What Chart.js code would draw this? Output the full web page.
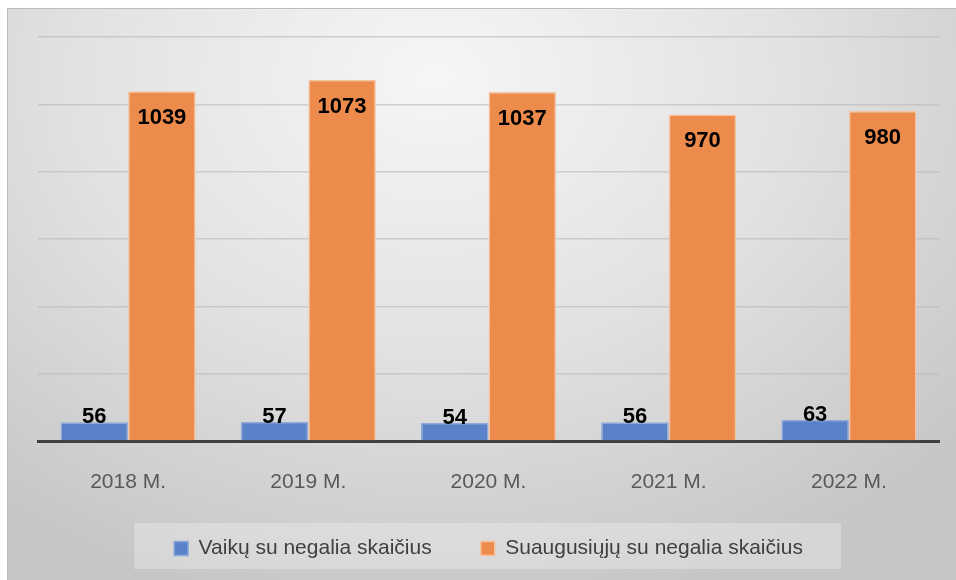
<!DOCTYPE html>
<html>
<head>
<meta charset="utf-8">
<script src="https://cdn.jsdelivr.net/npm/chart.js@4/dist/chart.umd.min.js"></script>
<style>
  html, body { margin: 0; padding: 0; background: #fff; }
  #wrap {
    position: absolute; left: 7px; top: 8px; width: 949px; height: 572px;
    box-sizing: border-box;
    border-left: 1px solid #bdbdbd; border-top: 1px solid #bdbdbd;
    background: radial-gradient(ellipse 75% 95% at 45% 12%, #f6f6f6 0%, #e2e2e2 50%, #c6c6c6 100%);
  }
  #chart { position: absolute; left: 0; top: 0; }
</style>
</head>
<body>
<div id="wrap"><canvas id="chart" width="948" height="571"></canvas></div>
<script>
const years = ["2018 M.", "2019 M.", "2020 M.", "2021 M.", "2022 M."];
const children = [56, 57, 54, 56, 63];
const adults = [1039, 1073, 1037, 970, 980];

const fontFamily = "'Liberation Sans', Arial, sans-serif";

// draws the numbers on the bars
const barLabels = {
    id: 'barLabels',
    afterDatasetsDraw(chart) {
        const ctx = chart.ctx;
        ctx.save();
        ctx.font = "bold 22px " + fontFamily;
        ctx.fillStyle = "#000";
        ctx.textAlign = "center";
        chart.data.datasets.forEach((ds, i) => {
            chart.getDatasetMeta(i).data.forEach((bar, j) => {
                const v = ds.data[j];
                if (i === 0) {
                    ctx.textBaseline = "alphabetic";
                    ctx.fillText(v, bar.x, bar.y + 1);
                } else {
                    ctx.textBaseline = "middle";
                    ctx.fillText(v, bar.x, bar.y + 27);
                }
            });
        });
        ctx.restore();
    }
};

// light box behind the legend
const legendBox = {
    id: 'legendBox',
    beforeDraw(chart) {
        const lg = chart.legend;
        if (!lg || !lg.legendHitBoxes.length) return;
        const boxes = lg.legendHitBoxes;
        const left = boxes[0].left - 40;
        const right = boxes[boxes.length - 1].left + boxes[boxes.length - 1].width + 38;
        const ctx = chart.ctx;
        ctx.save();
        ctx.fillStyle = "rgba(255,255,255,0.28)";
        ctx.fillRect(left, 514, right - left, 46);
        ctx.restore();
    }
};

new Chart(document.getElementById("chart"), {
    type: 'bar',
    data: {
        labels: years,
        datasets: [
            {
                label: "Vaikų su negalia skaičius      ",
                data: children,
                backgroundColor: "#5a82c9",
                borderColor: "#8eaadb",
                borderWidth: 1.5,
            },
            {
                label: "Suaugusiųjų su negalia skaičius",
                data: adults,
                backgroundColor: "#ec8b4b",
                borderColor: "#f6c2a0",
                borderWidth: 1.5,
            }
        ]
    },
    options: {
        responsive: false,
        animation: false,
        layout: { padding: { left: 30, right: 17, top: 28, bottom: 11 } },
        datasets: { bar: { barPercentage: 1, categoryPercentage: 0.75 } },
        scales: {
            x: {
                grid: { display: false, drawTicks: false },
                border: { display: true, color: "#404040", width: 3 },
                ticks: { color: "#595959", font: { family: fontFamily, size: 21 }, padding: 29 },
                afterFit(scale) { scale.height = 83; }
            },
            y: {
                min: 0, max: 1200,
                ticks: { display: false, stepSize: 200 },
                grid: { color: "rgba(185,185,185,0.6)", lineWidth: 1.5, drawTicks: false },
                border: { display: false }
            }
        },
        plugins: {
            legend: {
                position: 'bottom',
                labels: {
                    color: "#404040",
                    font: { family: fontFamily, size: 21 },
                    boxWidth: 14, boxHeight: 14,
                    padding: 14
                }
            },
            tooltip: { enabled: false }
        }
    },
    plugins: [barLabels, legendBox]
});
</script>
</body>
</html>
